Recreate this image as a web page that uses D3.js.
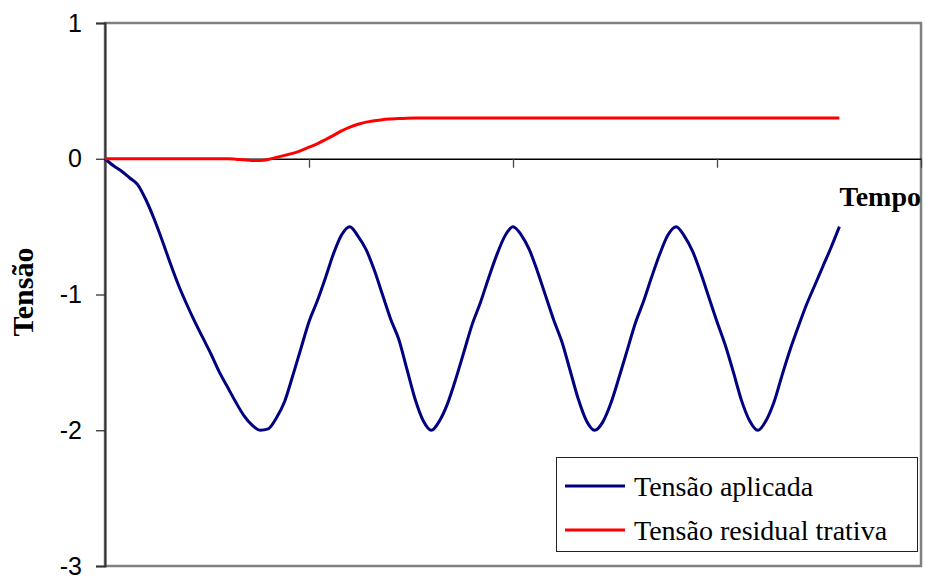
<!DOCTYPE html>
<html>
<head>
<meta charset="utf-8">
<script src="https://cdn.jsdelivr.net/npm/d3@7"></script>
<style>
  html, body { margin: 0; padding: 0; background: #fff; }
  svg { display: block; }
</style>
</head>
<body>
<svg id="chart" width="925" height="579"></svg>
<script>
// Applied stress: sampled once per time step (t = 0 … 90)
const tensaoAplicada = [
  0, -0.05, -0.09, -0.14, -0.19, -0.30, -0.44, -0.60, -0.77, -0.93,
  -1.07, -1.20, -1.32, -1.44, -1.57, -1.68, -1.79, -1.89, -1.96, -2.00,
  -1.99, -1.91, -1.79, -1.60, -1.40, -1.20, -1.05, -0.88, -0.70, -0.56,
  -0.50, -0.57, -0.67, -0.82, -1.00, -1.18, -1.33, -1.55, -1.77, -1.93,
  -2.00, -1.93, -1.80, -1.62, -1.42, -1.22, -1.06, -0.88, -0.71, -0.57,
  -0.50, -0.56, -0.67, -0.83, -1.01, -1.19, -1.35, -1.56, -1.77, -1.93,
  -2.00, -1.94, -1.80, -1.61, -1.41, -1.21, -1.05, -0.87, -0.70, -0.56,
  -0.50, -0.57, -0.68, -0.84, -1.02, -1.20, -1.37, -1.57, -1.78, -1.93,
  -2.00, -1.93, -1.79, -1.59, -1.40, -1.23, -1.07, -0.93, -0.79, -0.65,
  -0.50
];

// Residual tensile stress over the same time steps
const tensaoResidual = [
  0, 0, 0, 0, 0, 0, 0, 0, 0, 0,
  0, 0, 0, 0, 0, 0, -0.003, -0.008, -0.012, -0.012,
  -0.005, 0.01, 0.025, 0.04, 0.06, 0.085, 0.11, 0.14, 0.172, 0.205,
  0.233, 0.254, 0.27, 0.28, 0.288, 0.293, 0.297, 0.299, 0.30, 0.30,
  0.30, 0.30, 0.30, 0.30, 0.30, 0.30, 0.30, 0.30, 0.30, 0.30,
  0.30, 0.30, 0.30, 0.30, 0.30, 0.30, 0.30, 0.30, 0.30, 0.30,
  0.30, 0.30, 0.30, 0.30, 0.30, 0.30, 0.30, 0.30, 0.30, 0.30,
  0.30, 0.30, 0.30, 0.30, 0.30, 0.30, 0.30, 0.30, 0.30, 0.30,
  0.30, 0.30, 0.30, 0.30, 0.30, 0.30, 0.30, 0.30, 0.30, 0.30,
  0.30
];

const tempo = d3.range(tensaoAplicada.length);      // time steps 0 … 90
const yTicks = [1, 0, -1, -2, -3];
const xTicks = [0, 25, 50, 75, 100];
const seriesNames = ["Tensão aplicada", "Tensão residual trativa"];
const seriesColors = ["#000080", "#ff0000"];

const svg = d3.select("#chart");
const plot = { left: 105, right: 921, top: 23, bottom: 566 };

const x = d3.scaleLinear().domain([0, 100]).range([plot.left, plot.right]);
const y = d3.scaleLinear().domain([-3, 1]).range([plot.bottom, plot.top]);

// plot-area frame
svg.append("rect")
  .attr("x", plot.left).attr("y", plot.top)
  .attr("width", plot.right - plot.left).attr("height", plot.bottom - plot.top)
  .attr("fill", "#fff").attr("stroke", "#808080").attr("stroke-width", 2.5);

// y axis with numeric labels (plain hyphen for negatives)
const yAxis = svg.append("g")
  .attr("transform", `translate(${plot.left},0)`)
  .call(d3.axisLeft(y).tickValues(yTicks).tickFormat(d => String(d)).tickSize(9).tickPadding(14));
yAxis.select(".domain").attr("stroke", "#333").attr("stroke-width", 2);
yAxis.selectAll(".tick line").attr("stroke", "#333").attr("stroke-width", 1.3);
yAxis.selectAll(".tick text")
  .attr("font-family", "'Liberation Sans', Arial, sans-serif")
  .attr("font-size", 25).attr("fill", "#000");

// x axis drawn along y = 0, ticks only
const xAxis = svg.append("g")
  .attr("transform", `translate(0,${y(0)})`)
  .call(d3.axisBottom(x).tickValues(xTicks).tickFormat("").tickSize(9).tickSizeOuter(0));
xAxis.select(".domain").attr("stroke", "#000").attr("stroke-width", 1.3);
xAxis.selectAll(".tick line").attr("stroke", "#444").attr("stroke-width", 1.3);

// series lines
const line = d3.line()
  .x((d, i) => x(tempo[i]))
  .y(d => y(d))
  .curve(d3.curveMonotoneX);

[tensaoAplicada, tensaoResidual].forEach((vals, k) => {
  svg.append("path")
    .datum(vals)
    .attr("fill", "none")
    .attr("stroke", seriesColors[k])
    .attr("stroke-width", 3)
    .attr("stroke-linejoin", "round")
    .attr("d", line);
});

// axis titles
svg.append("text")
  .attr("x", 921).attr("y", 206)
  .attr("text-anchor", "end")
  .attr("font-family", "'Liberation Serif', 'Times New Roman', serif")
  .attr("font-weight", "bold").attr("font-size", 28)
  .text("Tempo");

svg.append("text")
  .attr("transform", "translate(33,292) rotate(-90)")
  .attr("text-anchor", "middle")
  .attr("font-family", "'Liberation Serif', 'Times New Roman', serif")
  .attr("font-weight", "bold").attr("font-size", 30)
  .text("Tensão");

// legend
const legend = svg.append("g");
legend.append("rect")
  .attr("x", 556.5).attr("y", 457.5).attr("width", 361).attr("height", 94)
  .attr("fill", "#fff").attr("stroke", "#222").attr("stroke-width", 1);
seriesNames.forEach((name, k) => {
  const cy = 486 + k * 44;
  legend.append("line")
    .attr("x1", 565).attr("x2", 625).attr("y1", cy).attr("y2", cy)
    .attr("stroke", seriesColors[k]).attr("stroke-width", 3);
  legend.append("text")
    .attr("x", 634).attr("y", cy + 10)
    .attr("font-family", "'Liberation Serif', 'Times New Roman', serif")
    .attr("font-size", 28).attr("fill", "#000")
    .text(name);
});
</script>
</body>
</html>
